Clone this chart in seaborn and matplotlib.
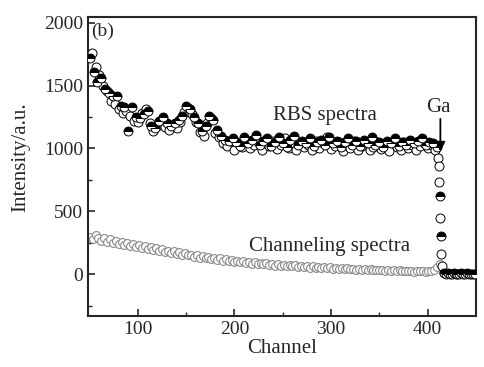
import numpy as np
import pandas as pd
import matplotlib
matplotlib.use("Agg")
import matplotlib.pyplot as plt
import seaborn as sns

# RBS spectrum, half-filled markers (channels 50..410, step 4)
rbs_half_ch = np.arange(50, 411, 4)
rbs_half = [1720, 1610, 1530, 1560, 1470, 1440, 1420, 1420, 1340, 1330,
            1140, 1330, 1250, 1240, 1270, 1300, 1180, 1160, 1220, 1250,
            1200, 1180, 1200, 1230, 1260, 1340, 1310, 1250, 1200, 1140,
            1180, 1260, 1230, 1150, 1100, 1070, 1060,
            1080, 1050, 1020, 1090, 1040, 1070, 1110, 1030, 1060, 1080,
            1020, 1050, 1090, 1040, 1010, 1070, 1100, 1030, 1060, 1040,
            1080, 1020, 1050, 1070, 1030, 1090, 1040, 1060, 1010, 1050,
            1080, 1030, 1060, 1020, 1070, 1040, 1090, 1030, 1050, 1010,
            1060, 1040, 1080, 1020, 1050, 1030, 1070, 1040, 1060, 1080,
            1030, 1050, 1040, 1010]

# RBS spectrum, open markers (channels 52..408, step 4)
rbs_open_ch = np.arange(52, 409, 4)
rbs_open = [1760, 1650, 1580, 1500, 1460, 1380, 1350, 1310, 1280, 1300,
            1260, 1220, 1210, 1280, 1310, 1200, 1140, 1180, 1210, 1170,
            1150, 1190, 1160, 1210, 1290, 1320, 1270, 1210, 1130, 1100,
            1200, 1240, 1120, 1090, 1040, 1020,
            1060, 990, 1040, 1010, 1070, 1000, 1030, 1050, 985, 1040,
            1020, 1060, 995, 1030, 1080, 1000, 1040, 990, 1050, 1010,
            1030, 985, 1060, 1000, 1040, 1090, 995, 1020, 1050, 980,
            1030, 1000, 1060, 990, 1020, 1040, 985, 1010, 1050, 995,
            1030, 980, 1040, 1010, 990, 1050, 1000, 1030, 985, 1020,
            1040, 1000, 1030, 990]

# Ga edge
edge_open_ch = [411, 411.5, 412, 413, 414, 414.5]
edge_open = [921, 857, 730, 445, 159, 64]
edge_half_ch = [412.5, 413.5]
edge_half = [619, 302]

# RBS background after the edge
tail_ch = np.arange(417, 450, 2)
tail = [8, 5, 10, 3, 6, 9, 4, 7, 5, 8, 3, 6, 9, 5, 4, 7, 6]

# Channeling spectrum (channels 50..410, step 3, then tail)
chan_ch = np.arange(50, 411, 3)
chan = [300, 282, 312, 288, 268, 290, 258, 278, 250, 262, 244,
        258, 232, 246, 228, 238, 214, 232, 208, 222, 203,
        214, 196, 207, 183, 198, 182, 188, 170, 183, 163,
        176, 154, 168, 152, 158, 141, 156, 133, 148, 131,
        141, 124, 133, 117, 130, 108, 121, 106, 113, 101,
        109, 96, 103, 91, 101, 84, 96, 82, 90, 79,
        87, 76, 86, 69, 81, 70, 77, 64, 76, 63,
        71, 61, 69, 58, 67, 54, 66, 53, 61, 51,
        59, 49, 56, 46, 54, 44, 53, 40, 49, 41,
        47, 39, 45, 37, 43, 33, 42, 34, 39, 32,
        37, 31, 35, 29, 34, 27, 33, 25, 31, 26,
        30, 23, 28, 24, 27, 21, 29, 25, 36, 62]
chan_tail_ch = np.arange(413, 450, 3)
chan_tail = [80, 20, 4, 2, 5, 1, 3, 2, 4, 1, 3, 2, 4]

sns.set_style("ticks")
plt.rcParams['font.family'] = ['Liberation Serif', 'DejaVu Serif']

fig = plt.figure(figsize=(4.85, 3.67), dpi=100)
ax = fig.add_axes([0.181, 0.139, 0.800, 0.815])

open_df = pd.DataFrame({"ch": np.concatenate([rbs_open_ch, edge_open_ch]),
                        "counts": np.concatenate([rbs_open, edge_open])})
chan_df = pd.DataFrame({"ch": np.concatenate([chan_ch, chan_tail_ch]),
                        "counts": np.concatenate([chan, chan_tail])})

# channeling - grey open circles
sns.scatterplot(data=chan_df, x="ch", y="counts", ax=ax, s=32, marker="o",
                facecolor="white", edgecolor="#8a8a8a", linewidth=0.8, zorder=2)

# RBS open circles
sns.scatterplot(data=open_df, x="ch", y="counts", ax=ax, s=42, marker="o",
                facecolor="white", edgecolor="black", linewidth=0.7, zorder=3)

# RBS half filled circles
half_x = np.concatenate([rbs_half_ch, edge_half_ch, tail_ch])
half_y = np.concatenate([rbs_half, edge_half, tail])
ax.plot(half_x, half_y, ls="none", marker="o", ms=6.4, fillstyle="top",
        markerfacecolor="black", markerfacecoloralt="white",
        markeredgecolor="black", markeredgewidth=0.7, zorder=4)

ax.set_xlim(48, 450)
ax.set_ylim(-330, 2045)
ax.set_xticks([100, 200, 300, 400])
ax.set_xticks([150, 250, 350], minor=True)
ax.set_yticks([0, 500, 1000, 1500, 2000])
ax.set_yticks([-250, 250, 750, 1250, 1750], minor=True)
ax.tick_params(which="major", direction="in", length=5, width=1.2, labelsize=14)
ax.tick_params(which="minor", direction="in", length=3, width=1.0)
for sp in ax.spines.values():
    sp.set_visible(True)
    sp.set_linewidth(1.5)

ax.set_xlabel("Channel", fontsize=15, labelpad=1)
ax.set_ylabel("Intensity/a.u.", fontsize=15)
ax.yaxis.set_label_coords(-0.147, 0.53)

ax.text(51, 1930, "(b)", fontsize=14, va="center", ha="left")
ax.text(294, 1262, "RBS spectra", fontsize=15, ha="center", va="center")
ax.text(299, 222, "Channeling spectra", fontsize=15, ha="center", va="center")
ax.text(411, 1326, "Ga", fontsize=15, ha="center", va="center")
ax.annotate("", xy=(413.3, 976), xytext=(413.3, 1235),
            arrowprops=dict(arrowstyle="-|>", color="black", lw=1.3,
                            mutation_scale=14, shrinkA=0, shrinkB=0),
            zorder=6)

fig.savefig("out.png", dpi=100)
